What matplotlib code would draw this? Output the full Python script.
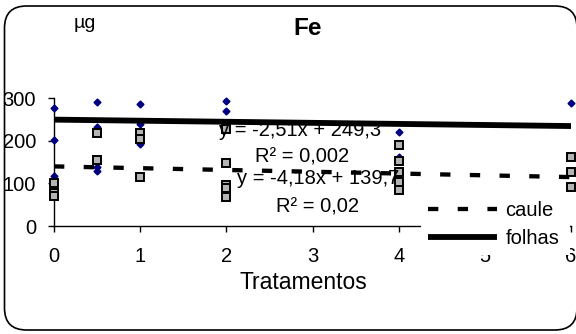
import matplotlib
matplotlib.use("Agg")
import matplotlib.pyplot as plt
from matplotlib.patches import FancyBboxPatch
from matplotlib.transforms import IdentityTransform
import numpy as np

plt.rcParams['font.family'] = ['Liberation Sans', 'DejaVu Sans']

# Measured values per treatment
folhas_x = [0, 0, 0, 0.5, 0.5, 0.5, 0.5, 1, 1, 1, 2, 2, 4, 4, 6, 6]
folhas_y = [277, 201, 117, 290, 232, 139, 128, 287, 239, 192, 293, 270, 221, 162, 289, 127]

caule_x = [0, 0, 0, 0.5, 0.5, 1, 1, 1, 2, 2, 2, 2, 2, 4, 4, 4, 4, 4, 6, 6, 6]
caule_y = [100, 78, 70, 219, 155, 219, 204, 116, 227, 148, 96, 90, 67,
           189, 153, 127, 104, 84, 161, 127, 92]

# Linear fits (slope, intercept, R2)
folhas_fit = (-2.51, 249.3, "0,002")
caule_fit = (-4.18, 139.7, "0,02")

xticks = [0, 1, 2, 3, 4, 5, 6]
yticks = [0, 100, 200, 300]

FS = 14.5
W, H = 576, 334
fig = plt.figure(figsize=(W / 100, H / 100), dpi=100)
ax = fig.add_axes([54 / W, (H - 226) / H, (571 - 54) / W, (226 - 98) / H])

ax.plot(folhas_x, folhas_y, linestyle='none', marker='D', markersize=3.5,
        color='#000080', clip_on=False, zorder=3)
ax.plot(caule_x, caule_y, linestyle='none', marker='s', markersize=5.5,
        markerfacecolor='#b4b4b4', markeredgecolor='black',
        markeredgewidth=1.4, clip_on=False, zorder=4)

xs = np.array([0, 6])
l_caule, = ax.plot(xs, caule_fit[0] * xs + caule_fit[1], color='black',
                   lw=3.1, dashes=(2.4, 4.5), dash_capstyle='butt',
                   label='caule', zorder=5)
l_folhas, = ax.plot(xs, folhas_fit[0] * xs + folhas_fit[1], color='black',
                    lw=4.2, solid_capstyle='butt', label='folhas', zorder=5)

ax.set_xlim(0, 6)
ax.set_ylim(0, 300)
ax.set_xticks(xticks)
ax.set_yticks(yticks)
ax.tick_params(axis='both', direction='out', length=4, width=1,
               labelsize=FS, colors='black')
ax.tick_params(axis='x', pad=11)
ax.tick_params(axis='y', pad=9)
for s in ['top', 'right']:
    ax.spines[s].set_visible(False)
for s in ['left', 'bottom']:
    ax.spines[s].set_linewidth(1)
ax.patch.set_visible(False)


def fmt(v):
    return f"{v:.2f}".replace('.', ',') if abs(v) < 10 else f"{v:.1f}".replace('.', ',')


# Trend line equations
fig.text(300 / W, (H - 130) / H, f"y = {fmt(folhas_fit[0])}x + {fmt(folhas_fit[1])}",
         fontsize=FS, ha='center', va='center', zorder=6)
fig.text(302 / W, (H - 157) / H, f"R² = {folhas_fit[2]}", fontsize=FS,
         ha='center', va='center')
fig.text(318 / W, (H - 178) / H, f"y = {fmt(caule_fit[0])}x + {fmt(caule_fit[1])}",
         fontsize=FS, ha='center', va='center')
fig.text(317 / W, (H - 207) / H, f"R² = {caule_fit[2]}", fontsize=FS,
         ha='center', va='center')

fig.text(308 / W, (H - 35) / H, "Fe", fontsize=17.5, fontweight='bold',
         ha='center', va='baseline')
fig.text(74 / W, (H - 28) / H, "µg", fontsize=14, ha='left', va='baseline')
fig.text(303 / W, (H - 289) / H, "Tratamentos", fontsize=16.5,
         ha='center', va='baseline')

# Legend box stretched over the lower right of the axis
leg = ax.legend(handles=[l_caule, l_folhas], loc='upper left',
                bbox_to_anchor=(421 / W, (H - 252) / H, 149 / W, 58 / H),
                bbox_transform=fig.transFigure, mode='expand', fontsize=FS,
                handlelength=3.4, handletextpad=0.45, labelspacing=0.45,
                borderaxespad=0, borderpad=0.35, fancybox=False,
                facecolor='white', edgecolor='none', framealpha=1)
leg.set_zorder(10)

# Rounded outer border
frame = FancyBboxPatch((4.5, H - 330), 572.5, 324,
                       boxstyle="round,pad=0,rounding_size=22",
                       transform=IdentityTransform(), facecolor='none',
                       edgecolor='black', linewidth=1.2)
fig.patches.append(frame)

fig.savefig("out.png", dpi=100)
